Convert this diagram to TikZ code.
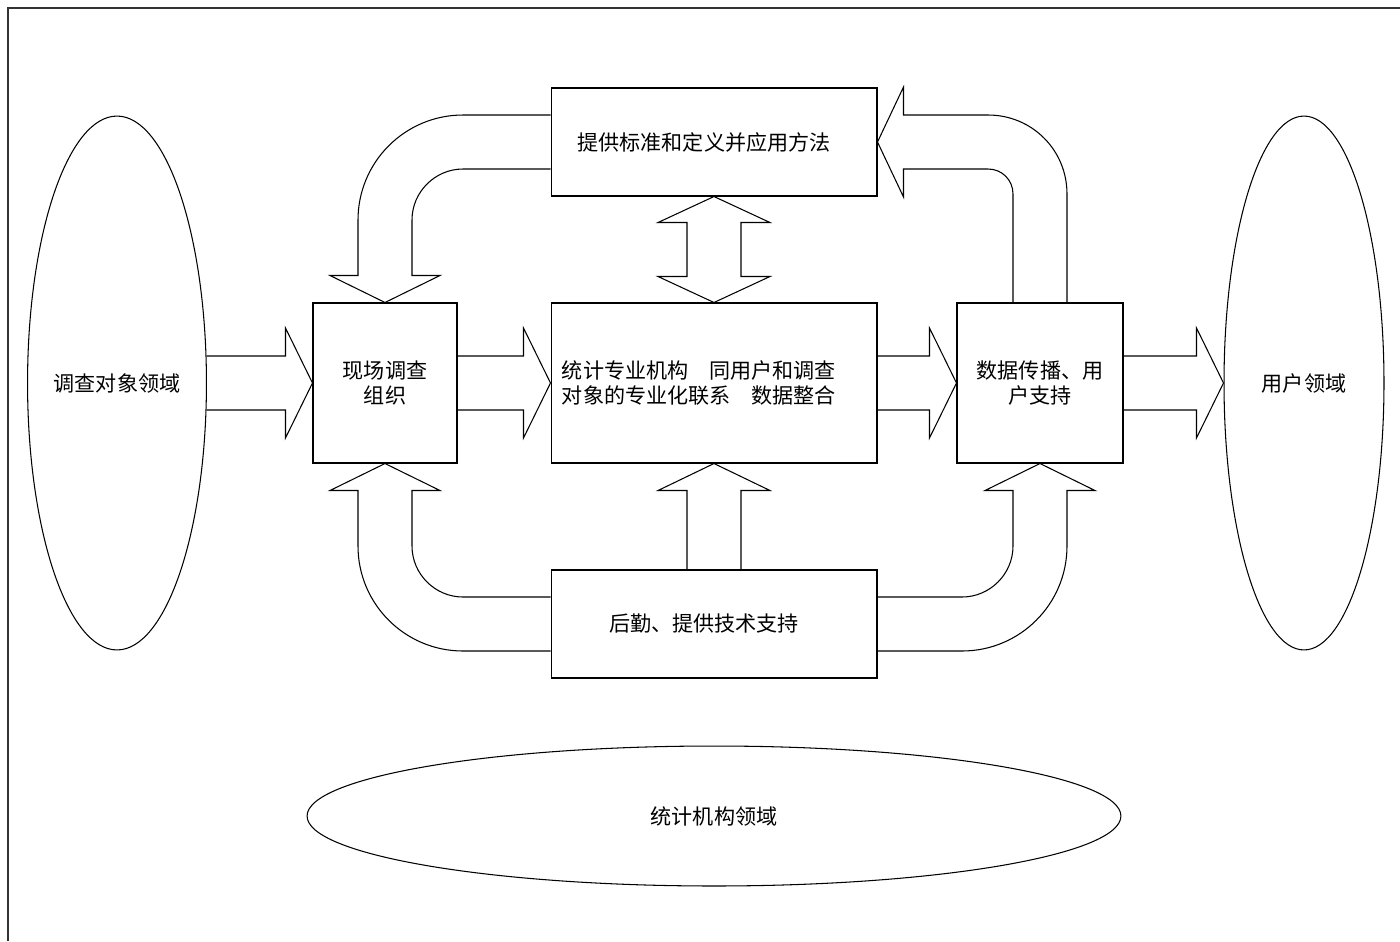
\documentclass[tikz,border=0pt]{standalone}
\usepackage{fontspec}
\newfontfamily\cjk{Noto Sans CJK SC}
\usetikzlibrary{shapes.geometric,calc}
\tikzset{
  kasten/.style={draw,rectangle,inner sep=0pt,align=center},
  bereich/.style={draw,ellipse,inner sep=0pt},
  pfeil/.style={draw,line join=miter},
}

\begin{document}
\begin{tikzpicture}[x=0.02cm,y=-0.02cm,line width=0.6pt,font=\cjk\fontsize{12pt}{14.5pt}\selectfont]
			\useasboundingbox (0,0) rectangle (1400,941);
			\draw[black!80] (8,941) -- (8,8) -- (1400,8);
			% Bereiche
			\node[bereich,minimum width=3.24cm,minimum height=10.68cm] (objekt) at (117,383) {调查对象领域};
			\node[bereich,minimum width=3.2cm,minimum height=10.68cm] (nutzer) at (1304,383) {用户领域};
			\node[bereich,minimum width=16.28cm,minimum height=2.8cm] (amt) at (714,816) {统计机构领域};
			% Kaesten
			\node[kasten,minimum width=6.52cm,minimum height=2.16cm] (oben) at (714,142) {\hspace*{-0.4cm}\raisebox{-0.14cm}{提供标准和定义并应用方法}};
			\node[kasten,minimum width=6.52cm,minimum height=3.2cm,align=left] (mitte) at (714,383) {统计专业机构　同用户和调查\hspace*{0.6cm}\\对象的专业化联系　数据整合};
			\node[kasten,minimum width=2.88cm,minimum height=3.2cm] (feld) at (385,383) {现场调查\\组织};
			\node[kasten,minimum width=3.32cm,minimum height=3.2cm] (verbreit) at (1040,383) {数据传播、用\\户支持};
			\node[kasten,minimum width=6.52cm,minimum height=2.16cm] (unten) at (714,624) {\hspace*{-0.4cm}后勤、提供技术支持};
			% gerade Pfeile
			\foreach \a/\b in {objekt/feld,feld/mitte,mitte/verbreit,verbreit/nutzer}
				\draw[pfeil] ($(\a.east)+(0,-27)$) -- ($(\b.west)+(-27,-27)$) -- ($(\b.west)+(-27,-55)$) -- (\b.west)
					-- ($(\b.west)+(-27,55)$) -- ($(\b.west)+(-27,27)$) -- ($(\a.east)+(0,27)$);
			\draw[pfeil] ($(unten.north)+(-27,0)$) -- ($(mitte.south)+(-27,27)$) -- ($(mitte.south)+(-56,27)$) -- (mitte.south)
				-- ($(mitte.south)+(56,27)$) -- ($(mitte.south)+(27,27)$) -- ($(unten.north)+(27,0)$);
			\draw[pfeil] (oben.south) -- ($(oben.south)+(56,26)$) -- ($(oben.south)+(27,26)$) -- ($(mitte.north)+(27,-26)$)
				-- ($(mitte.north)+(56,-26)$) -- (mitte.north) -- ($(mitte.north)+(-56,-26)$) -- ($(mitte.north)+(-27,-26)$)
				-- ($(oben.south)+(-27,26)$) -- ($(oben.south)+(-56,26)$) -- cycle;
			% gebogene Pfeile
			\coordinate (ol) at (feld.north |- oben.west);
			\coordinate (ul) at (feld.south |- unten.west);
			\coordinate (ur) at (verbreit.south |- unten.east);
			\coordinate (or) at (verbreit.north |- oben.east);
			\draw[pfeil] ($(oben.west)+(0,-27)$) -- ($(ol)+(78,-27)$) .. controls ($(ol)+(20,-27)$) and ($(ol)+(-27,20)$) .. ($(ol)+(-27,78)$)
				-- ($(feld.north)+(-27,-27)$) -- ($(feld.north)+(-55,-27)$) -- (feld.north) -- ($(feld.north)+(55,-27)$)
				-- ($(feld.north)+(27,-27)$) -- ($(ol)+(27,78)$) .. controls ($(ol)+(27,50)$) and ($(ol)+(50,27)$) .. ($(ol)+(78,27)$)
				-- ($(oben.west)+(0,27)$);
			\draw[pfeil] ($(unten.west)+(0,27)$) -- ($(ul)+(78,27)$) .. controls ($(ul)+(20,27)$) and ($(ul)+(-27,-20)$) .. ($(ul)+(-27,-78)$)
				-- ($(feld.south)+(-27,27)$) -- ($(feld.south)+(-55,27)$) -- (feld.south) -- ($(feld.south)+(55,27)$)
				-- ($(feld.south)+(27,27)$) -- ($(ul)+(27,-78)$) .. controls ($(ul)+(27,-50)$) and ($(ul)+(50,-27)$) .. ($(ul)+(78,-27)$)
				-- ($(unten.west)+(0,-27)$);
			\draw[pfeil] ($(unten.east)+(0,27)$) -- ($(ur)+(-78,27)$) .. controls ($(ur)+(-20,27)$) and ($(ur)+(27,-20)$) .. ($(ur)+(27,-78)$)
				-- ($(verbreit.south)+(27,27)$) -- ($(verbreit.south)+(55,27)$) -- (verbreit.south) -- ($(verbreit.south)+(-55,27)$)
				-- ($(verbreit.south)+(-27,27)$) -- ($(ur)+(-27,-78)$) .. controls ($(ur)+(-27,-50)$) and ($(ur)+(-50,-27)$) .. ($(ur)+(-78,-27)$)
				-- ($(unten.east)+(0,-27)$);
			\draw[pfeil] ($(verbreit.north)+(27,0)$) -- ($(or)+(27,52)$) .. controls ($(or)+(27,8)$) and ($(or)+(-8,-27)$) .. ($(or)+(-52,-27)$)
				-- ($(oben.east)+(26,-27)$) -- ($(oben.east)+(26,-55)$) -- (oben.east) -- ($(oben.east)+(26,55)$)
				-- ($(oben.east)+(26,27)$) -- ($(or)+(-52,27)$) .. controls ($(or)+(-38,27)$) and ($(or)+(-27,38)$) .. ($(or)+(-27,52)$)
				-- ($(verbreit.north)+(-27,0)$);
		\end{tikzpicture}
\end{document}
